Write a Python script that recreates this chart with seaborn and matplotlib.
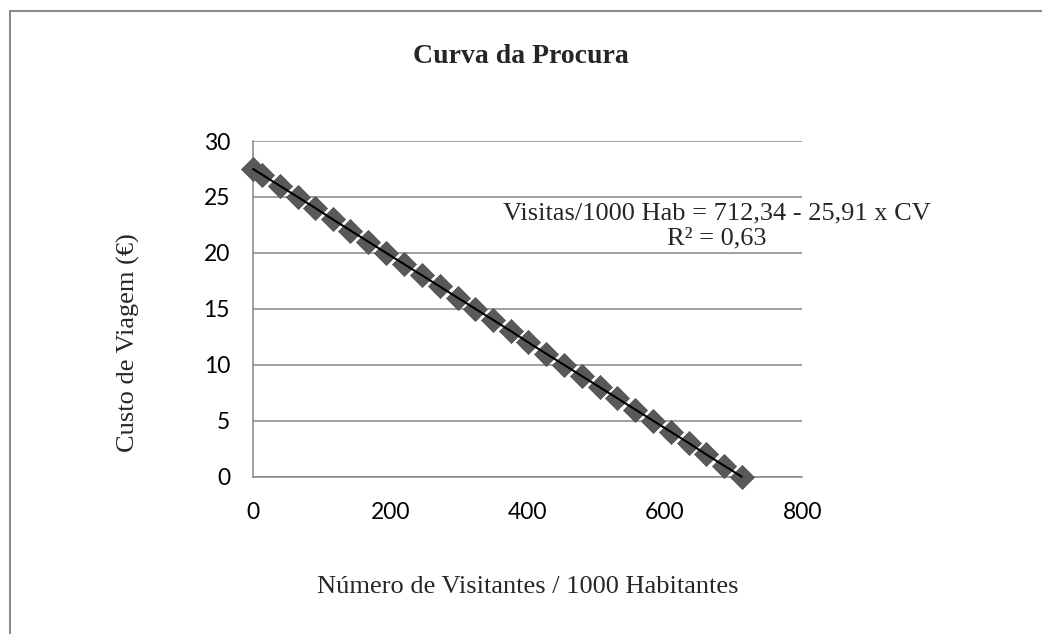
"""
Curva da Procura: custo de viagem vs. visitantes por 1000 habitantes,
com a recta de tendencia e a equacao ao estilo do Excel.
"""
import matplotlib
matplotlib.use("Agg")
import matplotlib.pyplot as plt
from matplotlib.lines import Line2D
import pandas as pd
import seaborn as sns

# --- Dados ---
custo_viagem = [27.5, 27, 26, 25, 24, 23, 22, 21, 20, 19, 18, 17, 16, 15, 14,
                13, 12, 11, 10, 9, 8, 7, 6, 5, 4, 3, 2, 1, 0]
visitantes = [0, 13, 39, 65, 91, 116, 142, 168, 194, 220, 246, 272, 298, 324,
              350, 376, 401, 427, 453, 479, 505, 531, 557, 583, 609, 635, 660,
              686, 712]
ticks_x = [0, 200, 400, 600, 800]
ticks_y = [0, 5, 10, 15, 20, 25, 30]

titulo = "Curva da Procura"
rotulo_x = "Número de Visitantes / 1000 Habitantes"
rotulo_y = "Custo de Viagem (€)"
equacao = "Visitas/1000 Hab = 712,34 - 25,91 x CV\nR² = 0,63"

df = pd.DataFrame({"visitantes": visitantes, "custo": custo_viagem})

CINZA = "#868686"
SERIF = ["Liberation Serif", "DejaVu Serif"]
SANS = ["Lato", "DejaVu Sans"]

sns.set_theme(style="white")
plt.rcParams["font.family"] = SANS

fig = plt.figure(figsize=(10.42, 6.34), dpi=100)
ax = fig.add_axes([0.2428, 0.2481, 0.527, 0.5295])

# pontos (losangos) e recta de tendencia
sns.scatterplot(data=df, x="visitantes", y="custo", marker="D", s=150,
                color="#595959", edgecolor="#4d4d4d", linewidth=0.5,
                ax=ax, zorder=3, legend=False, clip_on=False)
sns.lineplot(data=df, x="visitantes", y="custo", color="black",
             linewidth=1.5, ax=ax, zorder=4, sort=True, clip_on=False)

ax.set_xlim(0, 800)
ax.set_ylim(0, 30)
ax.set_xticks(ticks_x)
ax.set_yticks(ticks_y)
ax.yaxis.grid(True, color=CINZA, linewidth=1.1)
ax.xaxis.grid(False)
ax.set_axisbelow(True)

for lado in ["top", "right"]:
    ax.spines[lado].set_visible(False)
for lado in ["left", "bottom"]:
    ax.spines[lado].set_color(CINZA)
    ax.spines[lado].set_linewidth(1.1)

ax.tick_params(axis="both", direction="out", length=6.5, width=1.1,
               color=CINZA, labelsize=16.5, labelcolor="black")
ax.tick_params(axis="x", pad=12)
ax.tick_params(axis="y", pad=10)

ax.set_xlabel(rotulo_x, fontsize=19, family=SERIF)
ax.set_ylabel(rotulo_y, fontsize=19, family=SERIF)
ax.xaxis.set_label_coords(0.5, -0.295)
ax.yaxis.set_label_coords(-0.205, 0.40)

ax.text(676, 22.4, equacao, ha="center", va="center", multialignment="center",
        fontsize=19, family=SERIF, clip_on=False, linespacing=1.15)

fig.text(0.5, 0.911, titulo, ha="center", va="center", fontsize=20,
         fontweight="bold", family=SERIF)

# moldura do grafico (so se ve o topo e a esquerda)
fig.add_artist(Line2D([0.0096, 1.0], [0.9826, 0.9826], color="#8c8c8c",
                      linewidth=1.5, transform=fig.transFigure))
fig.add_artist(Line2D([0.0096, 0.0096], [0.0, 0.9826], color="#8c8c8c",
                      linewidth=1.5, transform=fig.transFigure))

fig.savefig("out.png", dpi=100, facecolor="white")
